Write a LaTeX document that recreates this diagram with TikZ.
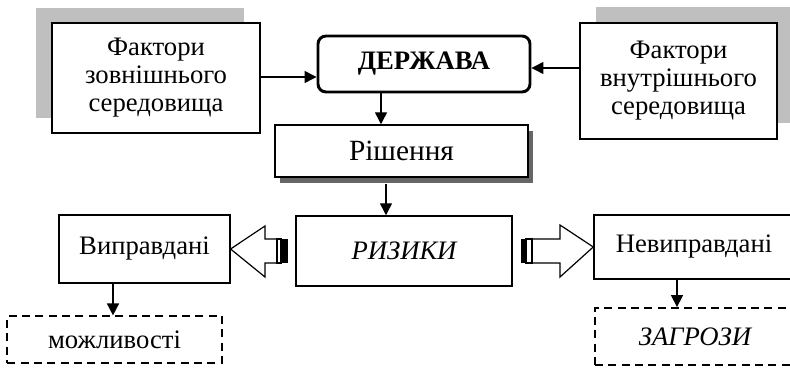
\documentclass[tikz,border=0pt]{standalone}
\usepackage{fontspec}
\setmainfont{Liberation Serif}
\usetikzlibrary{arrows.meta,shadows}

\begin{document}
\begin{tikzpicture}[x=0.75pt,y=-0.75pt,
    box/.style={draw,line width=1.1pt,fill=white,inner sep=0pt,align=center,
      font=\fontsize{20}{21}\selectfont},
    dbox/.style={box,dash pattern=on 6pt off 4pt},
    conn/.style={line width=1.1pt,-{Triangle[length=9pt,width=9pt]}},
    grayshadow/.style={general shadow={fill=gray!50,shadow xshift=#1}}]
  \useasboundingbox (0,0) rectangle (790,373);

  % top row
  \node[box,minimum width=156pt,minimum height=82.5pt,
        general shadow={fill=gray!50,shadow xshift=-12pt,shadow yshift=11.25pt}]
    (zovn) at (156,78) {Фактори\\зовнішнього\\середовища};
  \node[box,minimum width=148pt,minimum height=87pt,
        general shadow={fill=gray!50,shadow xshift=12pt,shadow yshift=12pt}]
    (vnutr) at (678.5,81) {Фактори\\внутрішнього\\середовища};
  \node[box,line width=2.2pt,rounded corners=6pt,minimum width=159pt,minimum height=42pt,
        font=\fontsize{20}{21}\selectfont\bfseries]
    (derzh) at (424,64) {ДЕРЖАВА};

  % decision
  \node[box,minimum width=190pt,minimum height=39pt,font=\fontsize{22}{23}\selectfont,
        general shadow={fill=black!60,shadow xshift=3.75pt,shadow yshift=-4.5pt}]
    (rish) at (401.5,151) {Рішення};
  \node[box,minimum width=162pt,minimum height=52.5pt,font=\fontsize{20}{21}\selectfont\itshape]
    (ryz) at (404,251) {РИЗИКИ};

  % outcomes
  \node[box,minimum width=128pt,minimum height=51pt] (vypr) at (144.5,249) {Виправдані};
  \node[box,minimum width=150pt,minimum height=48pt] (nevypr) at (694,247) {Невиправдані};
  \node[dbox,minimum width=161pt,minimum height=35pt] (mozhl) at (114.5,339.5) {можливості};
  \node[dbox,minimum width=150pt,minimum height=43pt,font=\fontsize{20}{21}\selectfont\itshape]
    (zagr) at (695,336.5) {ЗАГРОЗИ};

  % connectors
  \draw[conn] (zovn.east |- 0,77) -- (derzh.west |- 0,77);
  \draw[conn] (vnutr.west |- 0,68) -- (derzh.east |- 0,68);
  \draw[conn] (derzh.south -| 381,0) -- (rish.north -| 381,0);
  \draw[conn] (rish.south -| 386,0) ++(0,6) -- (ryz.north -| 386,0);
  \draw[conn] (vypr.south -| 113,0) -- (mozhl.north -| 113,0);
  \draw[conn] (nevypr.south -| 677,0) -- (zagr.north -| 677,0);

  % striped block arrows
  \draw[line width=0.9pt,fill=white] (vypr.east) -- (265,226) -- (265,239) -- (277,239)
    -- (277,263) -- (265,263) -- (265,277) -- cycle;
  \draw[line width=0.9pt,fill=white] (277,239) rectangle (281,263);
  \fill (281,239) rectangle (288,263);
  \draw[line width=0.9pt,fill=white] (nevypr.west) -- (560,225) -- (560,239) -- (532,239)
    -- (532,263) -- (560,263) -- (560,277) -- cycle;
  \draw[line width=0.9pt,fill=white] (526,239) rectangle (532,263);
  \fill (521,239) rectangle (526,263);
\end{tikzpicture}
\end{document}
